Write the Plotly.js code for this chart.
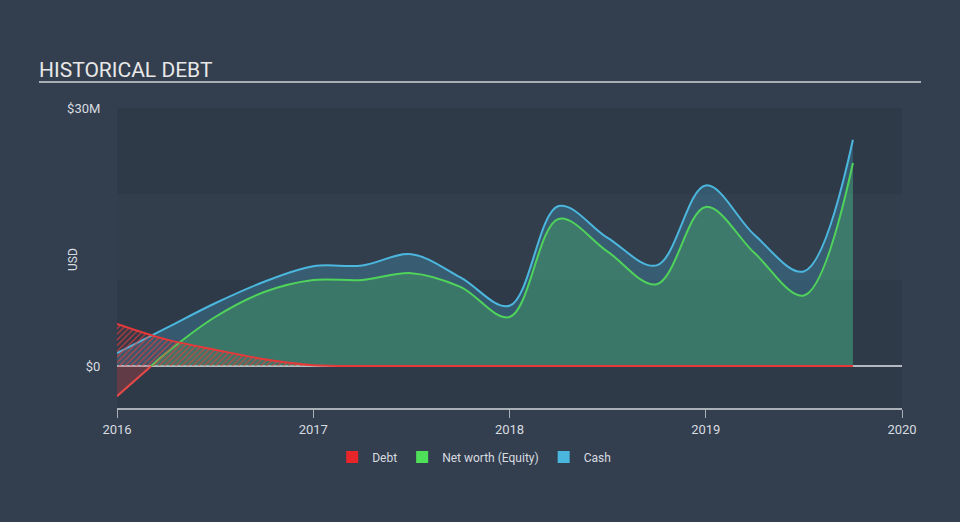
<!DOCTYPE html>
<html>
<head>
<meta charset="utf-8">
<script src="https://cdn.plot.ly/plotly-3.0.1.min.js"></script>
<style>
  html, body { margin: 0; padding: 0; background: #333f4e; }
  #chart { width: 960px; height: 522px; }
</style>
</head>
<body>
<div id="chart"></div>
<script>
// Quarterly dates (decimal years)
const quarters = [2016, 2016.25, 2016.5, 2016.75, 2017, 2017.25, 2017.5, 2017.75,
                  2018, 2018.25, 2018.5, 2018.75, 2019, 2019.25, 2019.5, 2019.75];
// Values in $M
const debt   = [4.9, 3.1, 1.9, 0.8, 0.1, 0, 0, 0, 0, 0, 0, 0, 0, 0, 0, 0];
const equity = [-3.5, 1.5, 5.7, 8.6, 10.0, 10.0, 10.8, 9.2, 5.7, 17.1, 13.3, 9.5, 18.5, 13.1, 8.2, 23.6];
const cash   = [1.5, 4.4, 7.3, 9.8, 11.6, 11.7, 13.0, 10.3, 7.0, 18.6, 14.9, 11.7, 21.0, 15.2, 11.0, 26.3];
const yearTicks = [2016, 2017, 2018, 2019, 2020];
const yTickVals = [0, 30];
const yTickText = ['$0', '$30M'];

// split equity into negative and positive parts at the zero crossing
const negX = [], negY = [], posX = [], posY = [];
for (let i = 0; i < quarters.length; i++) {
  if (equity[i] < 0) {
    negX.push(quarters[i]); negY.push(equity[i]);
    if (i + 1 < quarters.length && equity[i + 1] >= 0) {
      const t = -equity[i] / (equity[i + 1] - equity[i]);
      const xc = quarters[i] + t * (quarters[i + 1] - quarters[i]);
      negX.push(xc); negY.push(0);
      posX.push(xc); posY.push(0);
    }
  } else {
    posX.push(quarters[i]); posY.push(equity[i]);
  }
}

const RED = '#e63a3a', GREEN = '#4fd35a', BLUE = '#4cb7de';
const font = 'Roboto, "Open Sans", sans-serif';

const traces = [
  { x: quarters, y: cash, type: 'scatter', mode: 'lines', fill: 'tozeroy',
    fillcolor: 'rgba(76,183,222,0.25)', line: { color: BLUE, width: 2, shape: 'spline', smoothing: 1 },
    showlegend: false, hoverinfo: 'skip' },
  { x: negX, y: negY, type: 'scatter', mode: 'lines', fill: 'tozeroy',
    fillcolor: 'rgba(230,70,70,0.28)', line: { color: '#e84848', width: 2 },
    showlegend: false, hoverinfo: 'skip' },
  { x: posX, y: posY, type: 'scatter', mode: 'lines', fill: 'tozeroy',
    fillcolor: 'rgba(79,211,90,0.25)', line: { color: GREEN, width: 2, shape: 'spline', smoothing: 1 },
    showlegend: false, hoverinfo: 'skip' },
  { x: quarters, y: debt, type: 'scatter', mode: 'lines', fill: 'tozeroy',
    fillcolor: 'rgba(0,0,0,0)',
    fillpattern: { shape: '/', fgcolor: 'rgba(230,60,60,0.75)', bgcolor: 'rgba(0,0,0,0)', size: 4, solidity: 0.35 },
    line: { color: RED, width: 2, shape: 'spline', smoothing: 1 },
    showlegend: false, hoverinfo: 'skip' },
  // legend swatches
  { x: [null], y: [null], type: 'bar', name: 'Debt', marker: { color: '#e8262a' } },
  { x: [null], y: [null], type: 'bar', name: 'Net worth (Equity)', marker: { color: '#4fe05a' } },
  { x: [null], y: [null], type: 'bar', name: 'Cash', marker: { color: '#4ab8de' } }
];

const layout = {
  width: 960, height: 522,
  paper_bgcolor: '#333f4e',
  plot_bgcolor: '#2e3a48',
  margin: { l: 117, r: 58, t: 108, b: 114 },
  font: { family: font, color: '#d8dbe0', size: 12 },
  title: { text: 'HISTORICAL DEBT', x: 39 / 960, xref: 'container', xanchor: 'left',
           y: 1 - 70 / 522, yref: 'container', yanchor: 'middle',
           font: { family: font, size: 21, color: '#e8e8e8' } },
  xaxis: {
    range: [2016, 2020], tickvals: yearTicks, ticktext: yearTicks.map(String),
    showgrid: false, zeroline: false, showline: true, linecolor: '#a9b0b8', linewidth: 2,
    ticks: 'outside', ticklen: 8, tickwidth: 1, tickcolor: '#a9b0b8',
    tickfont: { size: 13, color: '#d8dbe0' }, fixedrange: true
  },
  yaxis: {
    range: [-4.88, 30], tickvals: yTickVals, ticktext: yTickText,
    showgrid: false, zeroline: true, zerolinecolor: '#b4b8bf', zerolinewidth: 2,
    showline: false, ticks: 'outside', ticklen: 13, tickcolor: 'rgba(0,0,0,0)',
    tickfont: { size: 13, color: '#d8dbe0' },
    fixedrange: true
  },
  annotations: [
    { text: 'USD', xref: 'paper', yref: 'paper', x: (73 - 117) / 785, y: (408 - 260) / 300,
      textangle: -90, showarrow: false, xanchor: 'center', yanchor: 'middle',
      font: { family: font, size: 12, color: '#d8dbe0' } }
  ],
  showlegend: true,
  legend: { orientation: 'h', x: 0.455, xanchor: 'center', y: -0.163, yanchor: 'middle',
            font: { size: 12, color: '#d8dbe0' }, bgcolor: 'rgba(0,0,0,0)', traceorder: 'normal' },
  shapes: [
    { type: 'rect', xref: 'paper', yref: 'y', x0: 0, x1: 1, y0: 10, y1: 20,
      fillcolor: '#323e4c', line: { width: 0 }, layer: 'below' },
    { type: 'line', xref: 'paper', yref: 'paper', x0: (39 - 117) / 785, x1: (921 - 117) / 785,
      y0: (408 - 82) / 300, y1: (408 - 82) / 300, line: { color: '#a9aeb5', width: 2 } }
  ]
};

Plotly.newPlot('chart', traces, layout, { displayModeBar: false, staticPlot: true });
</script>
</body>
</html>
